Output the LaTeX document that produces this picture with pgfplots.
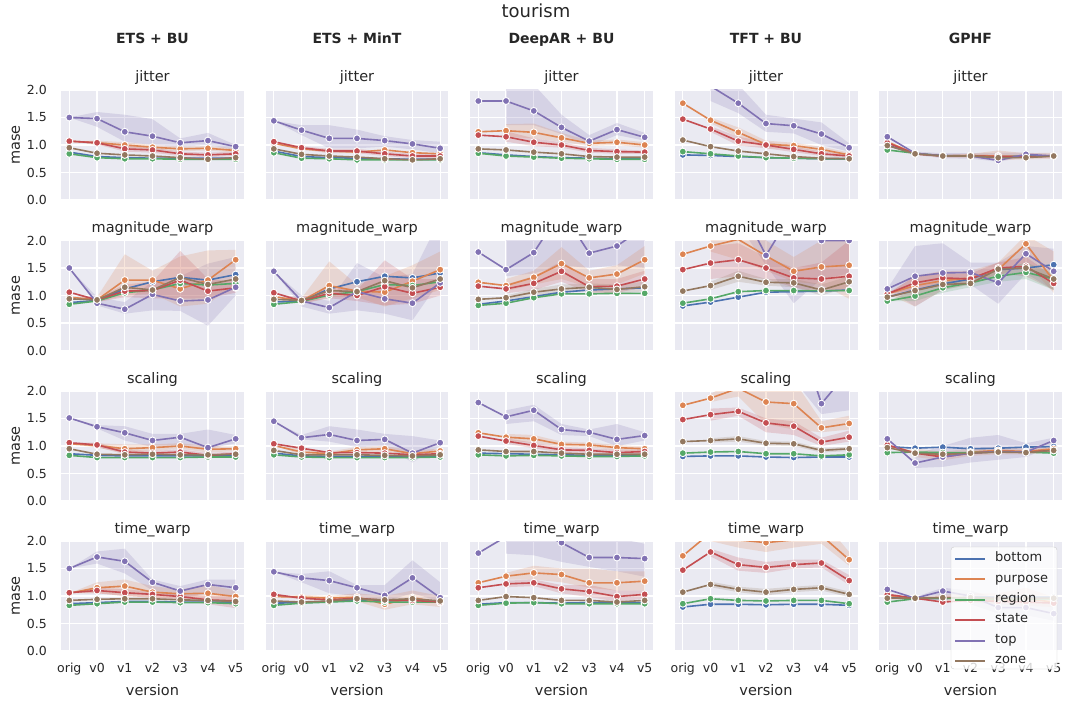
\documentclass[border=0pt]{standalone}
\usepackage{fontspec}
\setmainfont{DejaVu Sans}
\usepackage{pgfplots}
\pgfplotsset{compat=1.18}
\usepackage{pgfplotstable}

\definecolor{cb}{HTML}{4C72B0}
\definecolor{cp}{HTML}{DD8452}
\definecolor{cr}{HTML}{55A868}
\definecolor{cs}{HTML}{C44E52}
\definecolor{ct}{HTML}{8172B3}
\definecolor{cz}{HTML}{937860}
\definecolor{bg}{HTML}{EAEAF2}
\definecolor{tx}{HTML}{262626}

% columns: x, bottom, purpose, region, state, top, zone
\pgfplotstableread{
x b p r s t z
0 0.87 1.07 0.84 1.07 1.50 0.95
1 0.79 1.04 0.77 1.04 1.48 0.85
2 0.77 1.00 0.75 0.93 1.24 0.82
3 0.76 0.96 0.75 0.91 1.16 0.80
4 0.76 0.93 0.74 0.84 1.04 0.77
5 0.76 0.94 0.74 0.82 1.08 0.74
6 0.76 0.90 0.74 0.84 0.97 0.77
}\jA
\pgfplotstableread{
x b p r s t z
0 0.89 1.03 0.86 1.06 1.44 0.93
1 0.79 0.93 0.76 0.95 1.27 0.83
2 0.77 0.89 0.75 0.89 1.12 0.80
3 0.76 0.87 0.73 0.89 1.12 0.78
4 0.75 0.91 0.73 0.84 1.08 0.75
5 0.74 0.86 0.73 0.80 1.02 0.73
6 0.74 0.84 0.73 0.80 0.94 0.75
}\jB
\pgfplotstableread{
x b p r s t z
0 0.86 1.24 0.85 1.18 1.80 0.93
1 0.82 1.26 0.80 1.15 1.80 0.91
2 0.79 1.23 0.78 1.05 1.62 0.87
3 0.77 1.13 0.76 1.00 1.32 0.84
4 0.76 1.03 0.75 0.90 1.07 0.79
5 0.75 1.05 0.74 0.88 1.28 0.78
6 0.75 1.00 0.74 0.87 1.14 0.78
}\jC
\pgfplotstableread{
x b p r s t z
0 0.82 1.76 0.88 1.47 2.50 1.09
1 0.81 1.45 0.84 1.29 2.07 0.97
2 0.79 1.23 0.80 1.07 1.76 0.89
3 0.77 1.01 0.77 1.00 1.39 0.84
4 0.76 0.99 0.76 0.92 1.35 0.79
5 0.75 0.92 0.75 0.84 1.20 0.76
6 0.75 0.82 0.75 0.80 0.95 0.75
}\jD
\pgfplotstableread{
x b p r s t z
0 1.00 1.06 0.91 1.04 1.15 0.99
1 0.84 0.84 0.85 0.84 0.85 0.84
2 0.81 0.80 0.80 0.80 0.80 0.80
3 0.80 0.81 0.80 0.80 0.80 0.80
4 0.79 0.80 0.78 0.79 0.72 0.77
5 0.80 0.79 0.79 0.78 0.83 0.77
6 0.80 0.80 0.80 0.80 0.80 0.80
}\jE
\pgfplotstableread{
x b p r s t z
0 0.87 0.97 0.84 1.06 1.50 0.94
1 0.91 0.92 0.90 0.92 0.86 0.92
2 1.12 1.28 1.05 1.08 0.75 1.15
3 1.25 1.28 1.10 1.09 1.02 1.10
4 1.33 1.12 1.22 1.28 0.90 1.33
5 1.28 1.28 1.19 1.08 0.92 1.20
6 1.38 1.65 1.22 1.14 1.15 1.30
}\mA
\pgfplotstableread{
x b p r s t z
0 0.88 0.98 0.84 1.05 1.44 0.93
1 0.90 0.90 0.89 0.90 0.90 0.91
2 1.12 1.18 1.01 1.04 0.78 1.09
3 1.25 1.08 1.07 1.00 1.07 1.07
4 1.35 1.06 1.20 1.16 0.94 1.27
5 1.32 1.26 1.18 1.04 0.86 1.14
6 1.41 1.47 1.25 1.15 1.23 1.30
}\mB
\pgfplotstableread{
x b p r s t z
0 0.84 1.24 0.82 1.17 1.79 0.93
1 0.90 1.18 0.86 1.12 1.47 0.96
2 0.98 1.33 0.96 1.22 1.78 1.06
3 1.06 1.58 1.03 1.44 2.55 1.12
4 1.10 1.32 1.03 1.16 1.77 1.15
5 1.12 1.39 1.04 1.17 1.90 1.11
6 1.14 1.65 1.04 1.30 2.25 1.16
}\mC
\pgfplotstableread{
x b p r s t z
0 0.81 1.75 0.86 1.47 2.80 1.08
1 0.88 1.90 0.94 1.59 2.80 1.18
2 0.97 2.02 1.07 1.65 2.70 1.35
3 1.06 1.72 1.09 1.50 1.73 1.24
4 1.07 1.44 1.09 1.32 2.55 1.23
5 1.08 1.52 1.09 1.30 2.00 1.10
6 1.10 1.55 1.09 1.35 2.00 1.25
}\mD
\pgfplotstableread{
x b p r s t z
0 0.97 1.03 0.90 1.03 1.12 0.97
1 1.10 1.18 0.99 1.23 1.35 1.09
2 1.21 1.27 1.14 1.32 1.41 1.20
3 1.30 1.32 1.23 1.30 1.42 1.22
4 1.47 1.47 1.35 1.50 1.23 1.48
5 1.50 1.94 1.42 1.53 1.76 1.50
6 1.56 1.27 1.30 1.22 1.44 1.30
}\mE
\pgfplotstableread{
x b p r s t z
0 0.86 1.04 0.83 1.06 1.51 0.95
1 0.83 1.01 0.79 1.02 1.35 0.85
2 0.82 0.95 0.79 0.89 1.24 0.84
3 0.82 0.97 0.79 0.87 1.10 0.85
4 0.82 1.00 0.79 0.89 1.16 0.84
5 0.82 0.94 0.80 0.83 0.97 0.84
6 0.83 0.95 0.80 0.86 1.13 0.85
}\sA
\pgfplotstableread{
x b p r s t z
0 0.87 1.01 0.84 1.04 1.45 0.92
1 0.82 0.89 0.80 0.96 1.15 0.84
2 0.81 0.86 0.79 0.88 1.21 0.84
3 0.81 0.93 0.79 0.88 1.10 0.84
4 0.81 0.95 0.79 0.87 1.12 0.83
5 0.81 0.86 0.79 0.84 0.87 0.82
6 0.82 0.91 0.80 0.86 1.06 0.84
}\sB
\pgfplotstableread{
x b p r s t z
0 0.87 1.24 0.84 1.18 1.79 0.93
1 0.86 1.16 0.82 1.09 1.53 0.90
2 0.85 1.13 0.83 1.01 1.65 0.90
3 0.84 1.03 0.82 0.93 1.30 0.87
4 0.83 1.02 0.81 0.92 1.25 0.85
5 0.83 0.97 0.81 0.88 1.12 0.85
6 0.84 0.95 0.82 0.90 1.19 0.85
}\sC
\pgfplotstableread{
x b p r s t z
0 0.81 1.74 0.87 1.48 3.00 1.08
1 0.82 1.87 0.89 1.57 3.00 1.10
2 0.82 2.05 0.90 1.63 3.00 1.13
3 0.80 1.80 0.86 1.42 3.00 1.05
4 0.79 1.77 0.86 1.36 3.30 1.04
5 0.80 1.33 0.82 1.07 1.77 0.92
6 0.80 1.41 0.84 1.16 2.37 0.95
}\sD
\pgfplotstableread{
x b p r s t z
0 0.99 1.01 0.88 1.02 1.13 0.97
1 0.96 0.88 0.89 0.87 0.69 0.87
2 0.98 0.82 0.88 0.80 0.80 0.85
3 0.95 0.89 0.88 0.87 0.87 0.87
4 0.96 0.92 0.89 0.90 0.90 0.89
5 0.98 0.90 0.89 0.89 0.89 0.88
6 0.99 0.95 0.87 0.92 1.10 0.92
}\sE
\pgfplotstableread{
x b p r s t z
0 0.86 1.05 0.83 1.06 1.50 0.92
1 0.88 1.15 0.86 1.10 1.71 0.94
2 0.90 1.18 0.89 1.06 1.63 0.95
3 0.90 1.07 0.89 1.03 1.25 0.95
4 0.89 1.04 0.88 0.99 1.09 0.93
5 0.89 1.05 0.88 0.93 1.21 0.92
6 0.89 0.99 0.86 0.91 1.15 0.90
}\tA
\pgfplotstableread{
x b p r s t z
0 0.87 0.99 0.83 1.03 1.44 0.91
1 0.88 0.98 0.87 0.96 1.33 0.89
2 0.90 0.96 0.89 0.93 1.28 0.91
3 0.92 0.98 0.91 0.96 1.15 0.95
4 0.91 0.85 0.89 0.92 1.01 0.93
5 0.92 0.97 0.89 0.92 1.33 0.95
6 0.91 0.88 0.89 0.89 0.97 0.91
}\tB
\pgfplotstableread{
x b p r s t z
0 0.85 1.24 0.83 1.15 1.78 0.92
1 0.88 1.36 0.87 1.22 2.08 0.99
2 0.88 1.42 0.88 1.24 2.20 0.97
3 0.87 1.39 0.86 1.13 1.97 0.92
4 0.88 1.24 0.86 1.08 1.70 0.92
5 0.88 1.24 0.86 0.99 1.70 0.89
6 0.88 1.27 0.86 1.03 1.68 0.92
}\tC
\pgfplotstableread{
x b p r s t z
0 0.80 1.73 0.86 1.47 3.00 1.07
1 0.85 2.15 0.95 1.80 3.00 1.21
2 0.85 2.02 0.92 1.57 3.00 1.12
3 0.84 1.97 0.91 1.52 3.00 1.07
4 0.85 2.02 0.92 1.57 3.00 1.12
5 0.85 2.10 0.92 1.60 3.00 1.15
6 0.83 1.66 0.86 1.28 3.00 1.03
}\tD
\pgfplotstableread{
x b p r s t z
0 0.97 1.01 0.89 1.03 1.12 0.96
1 0.96 0.96 0.95 0.96 0.96 0.96
2 0.95 0.97 0.96 0.89 1.09 0.97
3 0.98 0.96 0.95 0.92 1.00 0.97
4 0.98 0.92 0.95 0.90 0.79 0.96
5 0.98 0.95 0.95 0.89 0.79 0.96
6 0.98 0.89 0.95 0.87 0.68 0.96
}\tE

\newcommand{\lines}[1]{%
  \addplot[ln=cb] table[x=x,y=b]{#1};
  \addplot[ln=cp] table[x=x,y=p]{#1};
  \addplot[ln=cr] table[x=x,y=r]{#1};
  \addplot[ln=cs] table[x=x,y=s]{#1};
  \addplot[ln=ct] table[x=x,y=t]{#1};
  \addplot[ln=cz] table[x=x,y=z]{#1};
}

\pgfplotsset{
  ln/.style={draw=#1, line width=1.6pt, mark=*, mark size=3.5pt,
    mark options={fill=#1, draw=white, line width=0.9pt}, forget plot},
  bd/.style={draw=none, fill=#1, fill opacity=0.2, forget plot},
  panel/.style={
    scale only axis, width=183pt, height=110pt, anchor=north west,
    xmin=-0.3, xmax=6.3, ymin=0, ymax=2,
    xtick={0,1,2,3,4,5,6}, ytick={0,0.5,1,1.5,2},
    xticklabels={}, yticklabels={},
    grid=major, grid style={white, line width=1.1pt},
    axis background/.style={fill=bg},
    axis line style={draw=none}, tick style={draw=none}, major tick length=0pt,
    clip marker paths=true,
    tick label style={font=\fontsize{12.5}{14}\selectfont, text=tx},
    xticklabel style={anchor=base, inner sep=0pt, yshift=-21pt},
    yticklabel style={anchor=east, inner sep=0pt, xshift=-14pt},
    every axis title/.style={at={(axis description cs:0.5,1)}, anchor=base,
      yshift=8pt, font=\fontsize{14.5}{16}\selectfont, text=tx},
    every axis x label/.style={at={(axis description cs:0.5,0)}, anchor=base,
      yshift=-44pt, font=\fontsize{14.5}{16}\selectfont, text=tx},
    every axis y label/.style={at={([xshift=-41pt]axis description cs:0,0.5)},
      rotate=90, anchor=base, font=\fontsize{14.5}{16}\selectfont, text=tx},
  },
  left/.style={yticklabels={0.0,0.5,1.0,1.5,2.0}, ylabel={mase}},
  bottom/.style={xticklabels={orig,v0,v1,v2,v3,v4,v5}, xlabel={version}},
}

\begin{document}
\begin{tikzpicture}
\path[use as bounding box] (0pt,0pt) rectangle (1080pt,-709pt);

\node[anchor=base, font=\fontsize{18}{20}\selectfont, text=tx] at (536pt,-18pt) {tourism};
\node[anchor=base, font=\fontsize{14}{16}\selectfont\bfseries, text=tx] at (152.5pt,-44pt) {ETS + BU};
\node[anchor=base, font=\fontsize{14}{16}\selectfont\bfseries, text=tx] at (357pt,-44pt) {ETS + MinT};
\node[anchor=base, font=\fontsize{14}{16}\selectfont\bfseries, text=tx] at (561.5pt,-44pt) {DeepAR + BU};
\node[anchor=base, font=\fontsize{14}{16}\selectfont\bfseries, text=tx] at (766pt,-44pt) {TFT + BU};
\node[anchor=base, font=\fontsize{14}{16}\selectfont\bfseries, text=tx] at (970.5pt,-44pt) {GPHF};

% ---------------- jitter ----------------
\begin{axis}[panel, left, at={(61pt,-90pt)}, title={jitter}]
  \addplot[bd=ct] coordinates {(0,1.50)(1,1.60)(2,1.55)(3,1.47)(4,1.12)(5,1.22)(6,1.0)(6,0.91)(5,1.0)(4,0.97)(3,1.0)(2,1.06)(1,1.33)(0,1.50)};
  \addplot[bd=cp] coordinates {(0,1.07)(1,1.08)(2,1.05)(3,1.0)(4,0.97)(5,0.98)(6,0.94)(6,0.86)(5,0.9)(4,0.89)(3,0.92)(2,0.95)(1,1.0)(0,1.07)};
  \addplot[bd=cs] coordinates {(0,1.07)(1,1.07)(2,0.99)(3,0.95)(4,0.88)(5,0.86)(6,0.88)(6,0.8)(5,0.78)(4,0.8)(3,0.86)(2,0.88)(1,1.01)(0,1.07)};
  \lines{\jA}
\end{axis}
\begin{axis}[panel, at={(265.5pt,-90pt)}, title={jitter}]
  \addplot[bd=ct] coordinates {(0,1.44)(1,1.36)(2,1.36)(3,1.28)(4,1.16)(5,1.09)(6,1.06)(6,0.85)(5,0.92)(4,0.97)(3,0.94)(2,0.94)(1,1.18)(0,1.44)};
  \addplot[bd=cs] coordinates {(0,1.06)(1,0.98)(2,0.93)(3,0.93)(4,0.88)(5,0.84)(6,0.84)(6,0.76)(5,0.76)(4,0.8)(3,0.85)(2,0.85)(1,0.92)(0,1.06)};
  \lines{\jB}
\end{axis}
\begin{axis}[panel, at={(470pt,-90pt)}, title={jitter}]
  \addplot[bd=ct] coordinates {(1,2.3)(2,2.1)(3,1.55)(4,1.18)(5,1.4)(6,1.22)(6,1.08)(5,1.18)(4,0.98)(3,1.2)(2,1.36)(1,1.36)};
  \addplot[bd=cp] coordinates {(1,1.38)(2,1.39)(3,1.22)(4,1.08)(5,1.1)(6,1.05)(6,0.95)(5,1.0)(4,0.98)(3,1.06)(2,1.12)(1,1.15)};
  \addplot[bd=cs] coordinates {(1,1.25)(2,1.12)(3,1.05)(4,0.95)(5,0.92)(6,0.9)(6,0.84)(5,0.84)(4,0.86)(3,0.95)(2,0.98)(1,1.06)};
  \lines{\jC}
\end{axis}
\begin{axis}[panel, at={(674.5pt,-90pt)}, title={jitter}]
  \addplot[bd=ct] coordinates {(1,2.6)(2,2.1)(3,1.55)(4,1.48)(5,1.41)(6,1.03)(6,0.88)(5,1.0)(4,1.21)(3,1.24)(2,1.58)(1,1.8)};
  \addplot[bd=cp] coordinates {(1,1.50)(2,1.32)(3,1.08)(4,1.04)(5,0.97)(6,0.86)(6,0.79)(5,0.88)(4,0.94)(3,0.94)(2,1.14)(1,1.40)};
  \addplot[bd=cs] coordinates {(1,1.34)(2,1.15)(3,1.06)(4,0.97)(5,0.88)(6,0.83)(6,0.77)(5,0.8)(4,0.87)(3,0.94)(2,0.99)(1,1.24)};
  \lines{\jD}
\end{axis}
\begin{axis}[panel, at={(879pt,-90pt)}, title={jitter}]
  \addplot[bd=ct] coordinates {(1,0.88)(2,0.85)(3,0.85)(4,0.86)(5,0.86)(6,0.84)(6,0.76)(5,0.78)(4,0.7)(3,0.75)(2,0.76)(1,0.82)};
  \addplot[bd=cp] coordinates {(1,0.86)(2,0.83)(3,0.84)(4,0.9)(5,0.85)(6,0.86)(6,0.75)(5,0.74)(4,0.72)(3,0.77)(2,0.77)(1,0.82)};
  \lines{\jE}
\end{axis}

% ---------------- magnitude_warp ----------------
\begin{axis}[panel, left, at={(61pt,-240.5pt)}, title={magnitude\_warp}]
  \addplot[bd=ct] coordinates {(0,1.5)(1,0.97)(2,0.88)(3,1.25)(4,1.35)(5,1.58)(6,1.70)(6,1.0)(5,0.45)(4,0.72)(3,0.73)(2,0.67)(1,0.82)(0,1.5)};
  \addplot[bd=cp] coordinates {(0,0.97)(1,0.97)(2,1.75)(3,1.45)(4,1.71)(5,1.82)(6,1.83)(6,1.21)(5,0.85)(4,0.80)(3,1.03)(2,1.0)(1,0.88)(0,0.97)};
  \addplot[bd=cs] coordinates {(0,1.06)(1,0.95)(2,1.2)(3,1.25)(4,1.81)(5,1.30)(6,1.25)(6,1.05)(5,0.95)(4,0.94)(3,0.95)(2,0.97)(1,0.88)(0,1.06)};
  \lines{\mA}
\end{axis}
\begin{axis}[panel, at={(265.5pt,-240.5pt)}, title={magnitude\_warp}]
  \addplot[bd=ct] coordinates {(0,1.44)(1,1.0)(2,0.9)(3,1.59)(4,1.33)(5,1.39)(6,2.4)(6,1.27)(5,0.55)(4,0.67)(3,0.73)(2,0.67)(1,0.80)(0,1.44)};
  \addplot[bd=cp] coordinates {(0,0.98)(1,0.95)(2,1.62)(3,1.2)(4,1.35)(5,1.55)(6,1.8)(6,1.1)(5,0.95)(4,0.80)(3,0.97)(2,0.97)(1,0.85)(0,0.98)};
  \addplot[bd=cs] coordinates {(0,1.05)(1,0.95)(2,1.15)(3,1.1)(4,1.64)(5,1.3)(6,1.3)(6,1.0)(5,0.85)(4,0.82)(3,0.9)(2,0.95)(1,0.85)(0,1.05)};
  \lines{\mB}
\end{axis}
\begin{axis}[panel, at={(470pt,-240.5pt)}, title={magnitude\_warp}]
  \addplot[bd=ct] coordinates {(1,2.6)(2,2.8)(3,3.0)(4,2.6)(5,2.6)(6,2.6)(6,1.5)(5,1.55)(4,1.5)(3,1.55)(2,1.4)(1,1.35)};
  \addplot[bd=cp] coordinates {(1,1.3)(2,1.45)(3,1.88)(4,1.45)(5,1.55)(6,1.9)(6,1.4)(5,1.2)(4,1.15)(3,1.3)(2,1.2)(1,1.08)};
  \addplot[bd=cs] coordinates {(1,1.2)(2,1.35)(3,1.62)(4,1.3)(5,1.3)(6,1.45)(6,1.15)(5,1.05)(4,1.05)(3,1.25)(2,1.1)(1,1.04)};
  \addplot[bd=cz] coordinates {(1,1.0)(2,1.12)(3,1.2)(4,1.22)(5,1.2)(6,1.25)(6,1.08)(5,1.02)(4,1.08)(3,1.05)(2,1.0)(1,0.92)};
  \lines{\mC}
\end{axis}
\begin{axis}[panel, at={(674.5pt,-240.5pt)}, title={magnitude\_warp}]
  \addplot[bd=ct] coordinates {(1,3)(2,3)(3,3)(4,3)(5,3)(6,3)(6,1.4)(5,1.3)(4,0.86)(3,1.55)(2,2.3)(1,2.4)};
  \addplot[bd=cp] coordinates {(1,2.3)(2,2.3)(3,2.0)(4,1.7)(5,2.0)(6,2.2)(6,0.94)(5,1.2)(4,1.25)(3,1.45)(2,1.65)(1,1.8)};
  \addplot[bd=cs] coordinates {(1,1.9)(2,1.95)(3,1.7)(4,1.5)(5,1.6)(6,2.0)(6,1.1)(5,1.05)(4,1.15)(3,1.3)(2,1.35)(1,1.3)};
  \addplot[bd=cz] coordinates {(1,1.25)(2,1.45)(3,1.3)(4,1.3)(5,1.2)(6,1.35)(6,1.15)(5,1.0)(4,1.15)(3,1.18)(2,1.25)(1,1.1)};
  \lines{\mD}
\end{axis}
\begin{axis}[panel, at={(879pt,-240.5pt)}, title={magnitude\_warp}]
  \addplot[bd=ct] coordinates {(0,1.12)(1,1.9)(2,1.95)(3,1.6)(4,1.6)(5,1.9)(6,1.85)(6,1.1)(5,1.4)(4,0.85)(3,1.2)(2,1.1)(1,0.8)(0,1.12)};
  \addplot[bd=cp] coordinates {(0,1.03)(1,1.35)(2,1.45)(3,1.45)(4,1.6)(5,2.1)(6,1.8)(6,1.05)(5,1.6)(4,1.35)(3,1.2)(2,1.1)(1,0.8)(0,1.03)};
  \addplot[bd=cs] coordinates {(0,1.03)(1,1.35)(2,1.4)(3,1.4)(4,1.6)(5,1.7)(6,1.35)(6,1.1)(5,1.35)(4,1.4)(3,1.2)(2,1.2)(1,1.1)(0,1.03)};
  \addplot[bd=cr] coordinates {(0,0.9)(1,1.1)(2,1.25)(3,1.3)(4,1.45)(5,1.6)(6,1.4)(6,1.1)(5,1.3)(4,1.25)(3,1.15)(2,1.05)(1,0.9)(0,0.9)};
  \lines{\mE}
\end{axis}

% ---------------- scaling ----------------
\begin{axis}[panel, left, at={(61pt,-391pt)}, title={scaling}]
  \addplot[bd=ct] coordinates {(0,1.51)(1,1.38)(2,1.36)(3,1.22)(4,1.22)(5,1.30)(6,1.20)(6,1.05)(5,0.95)(4,1.0)(3,0.98)(2,1.1)(1,1.32)(0,1.51)};
  \addplot[bd=cp] coordinates {(0,1.04)(1,1.05)(2,1.03)(3,1.03)(4,1.05)(5,1.0)(6,0.99)(6,0.91)(5,0.88)(4,0.95)(3,0.91)(2,0.88)(1,0.97)(0,1.04)};
  \addplot[bd=cs] coordinates {(0,1.06)(1,1.06)(2,0.93)(3,0.91)(4,0.94)(5,0.87)(6,0.9)(6,0.82)(5,0.79)(4,0.84)(3,0.83)(2,0.85)(1,0.98)(0,1.06)};
  \lines{\sA}
\end{axis}
\begin{axis}[panel, at={(265.5pt,-391pt)}, title={scaling}]
  \addplot[bd=ct] coordinates {(0,1.45)(1,1.2)(2,1.36)(3,1.3)(4,1.22)(5,1.18)(6,1.1)(6,1.0)(5,0.7)(4,1.0)(3,0.98)(2,1.08)(1,1.12)(0,1.45)};
  \addplot[bd=cp] coordinates {(0,1.01)(1,0.95)(2,0.9)(3,0.98)(4,1.0)(5,0.92)(6,0.95)(6,0.86)(5,0.8)(4,0.9)(3,0.88)(2,0.82)(1,0.84)(0,1.01)};
  \lines{\sB}
\end{axis}
\begin{axis}[panel, at={(470pt,-391pt)}, title={scaling}]
  \addplot[bd=ct] coordinates {(1,1.65)(2,1.75)(3,1.4)(4,1.3)(5,1.4)(6,1.25)(6,1.1)(5,1.0)(4,1.18)(3,1.2)(2,1.45)(1,1.4)};
  \addplot[bd=cp] coordinates {(1,1.22)(2,1.2)(3,1.08)(4,1.06)(5,1.02)(6,0.99)(6,0.9)(5,0.92)(4,0.98)(3,0.99)(2,1.06)(1,1.1)};
  \addplot[bd=cs] coordinates {(1,1.14)(2,1.06)(3,0.98)(4,0.96)(5,0.93)(6,0.94)(6,0.85)(5,0.83)(4,0.87)(3,0.88)(2,0.96)(1,1.04)};
  \lines{\sC}
\end{axis}
\begin{axis}[panel, at={(674.5pt,-391pt)}, title={scaling}]
  \addplot[bd=ct] coordinates {(1,3.5)(2,3.5)(3,3.5)(4,3.5)(5,2.5)(6,3)(6,1.65)(5,1.58)(4,2.2)(3,2.4)(2,2.5)(1,2.5)};
  \addplot[bd=cp] coordinates {(1,1.95)(2,2.2)(3,2.2)(4,2.2)(5,1.45)(6,1.55)(6,1.3)(5,1.25)(4,1.3)(3,1.4)(2,1.9)(1,1.8)};
  \addplot[bd=cs] coordinates {(1,1.68)(2,1.7)(3,1.5)(4,1.45)(5,1.15)(6,1.28)(6,1.08)(5,1.0)(4,1.2)(3,1.25)(2,1.55)(1,1.46)};
  \addplot[bd=cz] coordinates {(1,1.14)(2,1.18)(3,1.09)(4,1.08)(5,0.96)(6,0.99)(6,0.91)(5,0.88)(4,1.0)(3,1.01)(2,1.08)(1,1.06)};
  \lines{\sD}
\end{axis}
\begin{axis}[panel, at={(879pt,-391pt)}, title={scaling}]
  \addplot[bd=ct] coordinates {(1,0.85)(2,1.0)(3,1.15)(4,1.2)(5,1.05)(6,1.15)(6,1.0)(5,0.8)(4,0.75)(3,0.7)(2,0.62)(1,0.6)};
  \addplot[bd=cp] coordinates {(1,0.95)(2,0.9)(3,0.95)(4,0.98)(5,0.95)(6,1.0)(6,0.88)(5,0.85)(4,0.85)(3,0.82)(2,0.74)(1,0.8)};
  \lines{\sE}
\end{axis}

% ---------------- time_warp ----------------
\begin{axis}[panel, left, bottom, at={(61pt,-541pt)}, title={time\_warp}]
  \addplot[bd=ct] coordinates {(0,1.50)(1,1.81)(2,1.86)(3,1.3)(4,1.18)(5,1.3)(6,1.3)(6,1.0)(5,1.05)(4,0.95)(3,1.1)(2,1.41)(1,1.59)(0,1.50)};
  \addplot[bd=cp] coordinates {(0,1.05)(1,1.25)(2,1.3)(3,1.18)(4,1.12)(5,1.2)(6,1.1)(6,0.9)(5,0.95)(4,0.95)(3,0.97)(2,1.0)(1,1.05)(0,1.05)};
  \addplot[bd=cs] coordinates {(0,1.06)(1,1.15)(2,1.12)(3,1.08)(4,1.04)(5,1.0)(6,1.0)(6,0.78)(5,0.85)(4,0.93)(3,0.97)(2,1.0)(1,1.05)(0,1.06)};
  \lines{\tA}
\end{axis}
\begin{axis}[panel, bottom, at={(265.5pt,-541pt)}, title={time\_warp}]
  \addplot[bd=ct] coordinates {(0,1.44)(1,1.4)(2,1.45)(3,1.2)(4,1.2)(5,1.65)(6,1.25)(6,0.9)(5,1.05)(4,0.9)(3,1.0)(2,1.05)(1,1.25)(0,1.44)};
  \addplot[bd=cp] coordinates {(0,0.99)(1,1.02)(2,1.0)(3,1.05)(4,1.0)(5,1.1)(6,1.0)(6,0.8)(5,0.85)(4,0.75)(3,0.9)(2,0.92)(1,0.94)(0,0.99)};
  \lines{\tB}
\end{axis}
\begin{axis}[panel, bottom, at={(470pt,-541pt)}, title={time\_warp}]
  \addplot[bd=ct] coordinates {(1,2.4)(2,2.4)(3,2.3)(4,2.05)(5,2.05)(6,1.95)(6,1.35)(5,1.45)(4,1.53)(3,1.62)(2,1.74)(1,1.77)};
  \addplot[bd=cp] coordinates {(1,1.42)(2,1.55)(3,1.5)(4,1.5)(5,1.45)(6,1.45)(6,1.1)(5,1.1)(4,1.15)(3,1.25)(2,1.3)(1,1.3)};
  \addplot[bd=cs] coordinates {(1,1.28)(2,1.3)(3,1.2)(4,1.2)(5,1.1)(6,1.1)(6,0.95)(5,0.9)(4,0.98)(3,1.05)(2,1.18)(1,1.16)};
  \lines{\tC}
\end{axis}
\begin{axis}[panel, bottom, at={(674.5pt,-541pt)}, title={time\_warp}]
  \addplot[bd=cp] coordinates {(1,2.6)(2,2.4)(3,2.3)(4,2.3)(5,2.4)(6,1.8)(6,1.55)(5,1.95)(4,1.88)(3,1.8)(2,1.88)(1,2.0)};
  \addplot[bd=cs] coordinates {(1,1.86)(2,1.7)(3,1.62)(4,1.66)(5,1.66)(6,1.38)(6,1.2)(5,1.52)(4,1.5)(3,1.42)(2,1.46)(1,1.72)};
  \addplot[bd=cz] coordinates {(1,1.26)(2,1.17)(3,1.13)(4,1.17)(5,1.2)(6,1.08)(6,0.98)(5,1.1)(4,1.07)(3,1.01)(2,1.07)(1,1.16)};
  \lines{\tD}
\end{axis}
\begin{axis}[panel, bottom, at={(879pt,-541pt)}, title={time\_warp}]
  \addplot[bd=ct] coordinates {(1,0.98)(2,1.15)(3,1.1)(4,0.95)(5,0.95)(6,0.85)(6,0.55)(5,0.65)(4,0.68)(3,0.85)(2,1.0)(1,0.94)};
  \addplot[bd=cp] coordinates {(1,0.98)(2,1.02)(3,1.05)(4,1.05)(5,1.15)(6,0.98)(6,0.8)(5,0.82)(4,0.85)(3,0.88)(2,0.92)(1,0.94)};
  \lines{\tE}
\end{axis}

% legend box over the last panel (samples as thin filled bars)
\draw[draw=black!20, fill=white, fill opacity=0.8, rounded corners=3pt]
  (951pt,-547pt) rectangle (1057pt,-669pt);
\foreach \c/\n/\yy in {cb/bottom/559, cp/purpose/579.4, cr/region/599.8,
                       cs/state/620.2, ct/top/640.6, cz/zone/661} {
  \fill[\c] (955pt,{-\yy pt+0.95pt}) rectangle (985pt,{-\yy pt-0.95pt});
  \node[anchor=mid west, inner sep=0pt, font=\fontsize{13}{15}\selectfont, text=tx]
    at (995pt,{-\yy pt}) {\n};
}
\end{tikzpicture}
\end{document}
